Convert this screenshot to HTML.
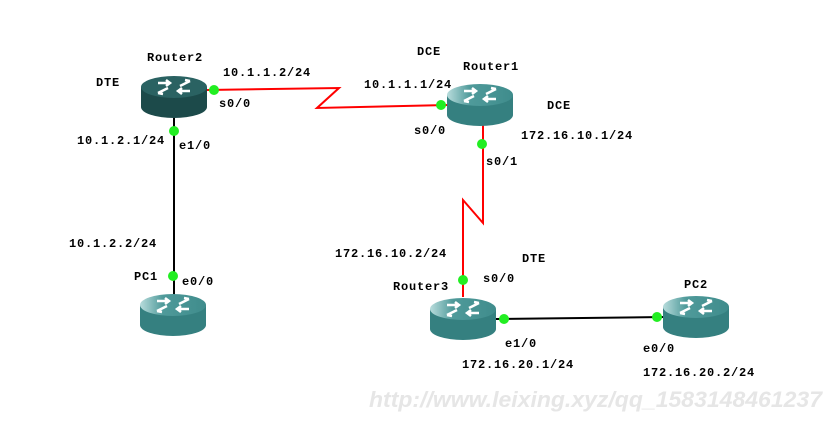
<!DOCTYPE html>
<html><head><style>body{margin:0;background:#fff}svg{display:block}</style></head><body>
<svg width="831" height="426" viewBox="0 0 831 426" xmlns="http://www.w3.org/2000/svg">
<defs>
<linearGradient id="tp" x1="0" y1="0" x2="1" y2="0"><stop offset="0" stop-color="#b8dcdc"/><stop offset="0.35" stop-color="#4f9a9a"/><stop offset="1" stop-color="#3f8c8c"/></linearGradient>
<g id="ar" stroke="#fff" stroke-width="2.5" fill="none">
<path d="M-16 -4 H-4 M-8 -7 L-4 -4 L-8 -1"/><path d="M16 4 H4 M8 1 L4 4 L8 7"/>
<path d="M-16 6 L-6 1 M-16 6 L-11 7"/><path d="M16 -6 L6 -1 M16 -6 L11 -7"/>
</g>
<g id="r">
<path d="M-33 0 V20 A33 11 0 0 0 33 20 V0 Z" fill="#358080"/>
<ellipse cx="0" cy="0" rx="33" ry="11" fill="url(#tp)"/>
<use href="#ar"/></g>
<g id="rd">
<path d="M-33 0 V20 A33 11 0 0 0 33 20 V0 Z" fill="#1c4a4a"/>
<ellipse cx="0" cy="0" rx="33" ry="11" fill="#2a6262"/>
<use href="#ar"/></g>
</defs>
<g stroke="#000" stroke-width="2" fill="none">
<line x1="174" y1="110" x2="174" y2="300"/>
<line x1="496" y1="319" x2="665" y2="317"/>
</g>
<g stroke="#f00" stroke-width="2" fill="none">
<polyline points="207,90 339,88 317,108 448,105"/>
<polyline points="483,125 483,223 463,200 463,297"/>
</g>
<use href="#rd" x="174" y="87"/>
<use href="#r" x="480" y="95"/>
<use href="#r" x="463" y="309"/>
<use href="#r" x="696" y="307"/>
<use href="#r" x="173" y="305"/>
<g fill="#22ee22">
<circle cx="214" cy="90" r="5"/><circle cx="441" cy="105" r="5"/><circle cx="174" cy="131" r="5"/>
<circle cx="482" cy="144" r="5"/><circle cx="463" cy="280" r="5"/><circle cx="173" cy="276" r="5"/>
<circle cx="504" cy="319" r="5"/><circle cx="657" cy="317" r="5"/>
</g>
<g font-family="'Liberation Mono',monospace" font-weight="bold" font-size="12" fill="#000" letter-spacing="0.8">
<text x="147" y="61">Router2</text><text x="96" y="86">DTE</text>
<text x="223" y="76">10.1.1.2/24</text><text x="219" y="107">s0/0</text>
<text x="77" y="144">10.1.2.1/24</text><text x="179" y="149">e1/0</text>
<text x="417" y="55">DCE</text><text x="463" y="70">Router1</text>
<text x="364" y="88">10.1.1.1/24</text><text x="547" y="109">DCE</text>
<text x="414" y="134">s0/0</text><text x="521" y="139">172.16.10.1/24</text>
<text x="486" y="165">s0/1</text>
<text x="69" y="247">10.1.2.2/24</text><text x="335" y="257">172.16.10.2/24</text>
<text x="522" y="262">DTE</text><text x="483" y="282">s0/0</text>
<text x="134" y="280">PC1</text><text x="182" y="285">e0/0</text>
<text x="393" y="290">Router3</text><text x="684" y="288">PC2</text>
<text x="505" y="347">e1/0</text><text x="643" y="352">e0/0</text>
<text x="462" y="368">172.16.20.1/24</text><text x="643" y="376">172.16.20.2/24</text>
</g>
<text x="369" y="407" textLength="453" lengthAdjust="spacingAndGlyphs" font-family="'Liberation Sans',sans-serif" font-style="italic" font-weight="bold" font-size="22" fill="#e6e6e6">http://www.leixing.xyz/qq_1583148461237</text>
</svg>
</body></html>
